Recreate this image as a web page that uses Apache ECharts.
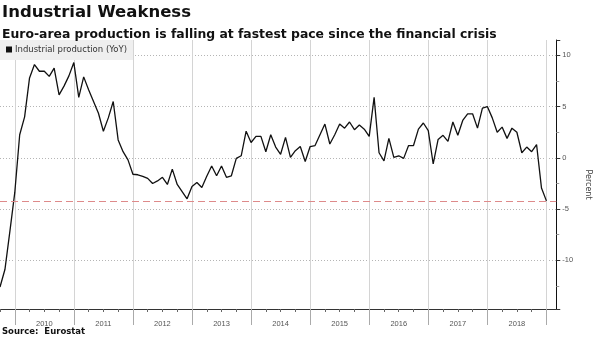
<!DOCTYPE html>
<html>
<head>
<meta charset="utf-8">
<script src="https://cdn.jsdelivr.net/npm/echarts@6/dist/echarts.min.js"></script>
<style>
  html, body { margin: 0; padding: 0; background: #fff; }
  #chart { width: 600px; height: 338px; }
</style>
</head>
<body>
<div id="chart"></div>
<script>
// Monthly axis: month-end categories from Sep 2009 through Feb 2019
const startYear = 2009, startMonth = 9, monthCount = 114;
const months = [];
for (let i = 0; i < monthCount; i++) {
  const t = startYear * 12 + (startMonth - 1) + i;
  const y = Math.floor(t / 12), m = (t % 12) + 1;
  months.push(y + '-' + String(m).padStart(2, '0'));
}

// Euro-area industrial production, % change year on year (Sep 2009 - Dec 2018)
const ip2009 = [-12.6, -10.9, -7.2, -3.4];
const ip2010 = [2.25, 4.0, 7.8, 9.1, 8.45, 8.45, 7.95, 8.75, 6.15, 7.0, 8.0, 9.3];
const ip2011 = [5.9, 7.9, 6.65, 5.5, 4.35, 2.6, 3.9, 5.5, 1.75, 0.6, -0.2, -1.6];
const ip2012 = [-1.65, -1.8, -2.0, -2.5, -2.25, -1.9, -2.6, -1.1, -2.6, -3.3, -4.0, -2.8];
const ip2013 = [-2.4, -2.9, -1.8, -0.8, -1.75, -0.8, -1.9, -1.75, -0.05, 0.2, 2.6, 1.5];
const ip2014 = [2.1, 2.1, 0.6, 2.25, 1.05, 0.35, 2.0, 0.05, 0.7, 1.1, -0.35, 1.1];
const ip2015 = [1.2, 2.25, 3.3, 1.35, 2.25, 3.3, 2.9, 3.5, 2.75, 3.2, 2.8, 2.1];
const ip2016 = [5.9, 0.5, -0.3, 1.9, 0.05, 0.2, -0.05, 1.2, 1.2, 2.8, 3.4, 2.65];
const ip2017 = [-0.6, 1.8, 2.2, 1.6, 3.5, 2.2, 3.65, 4.3, 4.3, 2.9, 4.85, 5.0];
const ip2018 = [3.9, 2.5, 3.0, 1.9, 2.9, 2.5, 0.5, 1.05, 0.6, 1.3, -2.95, -4.2];

const industrialProduction = [].concat(ip2009, ip2010, ip2011, ip2012, ip2013,
  ip2014, ip2015, ip2016, ip2017, ip2018);
const latestValue = industrialProduction[industrialProduction.length - 1];

const seriesName = 'Industrial production (YoY)';
const yTickLabels = [-10, -5, 0, 5, 10];

const isYearEnd = (i, v) => v.slice(5) === '12';
const isMidYear = (i, v) => v.slice(5) === '06';
const isQuarter = (i, v) => ['03', '06', '09'].indexOf(v.slice(5)) >= 0;

const GRID_TOP = 40, GRID_BOTTOM = 29;
const chart = echarts.init(document.getElementById('chart'), null, { renderer: 'canvas' });

chart.setOption({
  animation: false,
  backgroundColor: '#ffffff',
  title: [
    {
      text: 'Industrial Weakness',
      left: 2, top: 3, padding: 0,
      textStyle: { fontFamily: 'DejaVu Sans', fontWeight: 'bold', fontSize: 16.5, color: '#111', lineHeight: 20 }
    },
    {
      text: 'Euro-area production is falling at fastest pace since the financial crisis',
      left: 2, top: 27, padding: 0,
      textStyle: { fontFamily: 'DejaVu Sans', fontWeight: 'bold', fontSize: 12.4, color: '#111', lineHeight: 15 }
    },
    {
      text: 'Source:  Eurostat',
      left: 2, top: 326, padding: 0,
      textStyle: { fontFamily: 'DejaVu Sans', fontWeight: 'bold', fontSize: 8.5, color: '#111', lineHeight: 12 }
    }
  ],
  legend: {
    left: 0, top: GRID_TOP,
    padding: [5, 6, 6, 6],
    backgroundColor: '#efefef',
    itemWidth: 6, itemHeight: 6,
    itemGap: 4,
    textStyle: { fontFamily: 'DejaVu Sans', fontSize: 8.5, color: '#333', padding: [0, 0, 0, -2] },
    data: [{ name: seriesName, icon: 'rect', itemStyle: { color: '#111' } }]
  },
  grid: { left: 0, right: 27, top: GRID_TOP, bottom: GRID_BOTTOM, containLabel: false },
  xAxis: [
    {
      type: 'category',
      data: months,
      boundaryGap: false,
      position: 'bottom',
      axisLine: { show: true, onZero: false, lineStyle: { color: '#333', width: 1 } },
      axisTick: { show: true, interval: isYearEnd, length: 16, lineStyle: { color: '#aaa', width: 1 } },
      axisLabel: {
        show: true, interval: isMidYear, margin: 11,
        formatter: v => v.slice(0, 4),
        fontFamily: 'Liberation Sans', fontSize: 7.5, color: '#555'
      },
      splitLine: { show: true, interval: isYearEnd, lineStyle: { color: '#d4d4d4', width: 1, type: 'solid' } }
    },
    {
      // quarterly minor ticks along the bottom edge
      type: 'category',
      data: months,
      boundaryGap: false,
      position: 'top',
      offset: -(338 - GRID_TOP - GRID_BOTTOM),
      axisLine: { show: false, onZero: false },
      axisTick: { show: true, inside: true, interval: isQuarter, length: 3, lineStyle: { color: '#666', width: 1 } },
      axisLabel: { show: false },
      splitLine: { show: false }
    }
  ],
  yAxis: {
    type: 'value',
    position: 'right',
    min: -14.75,
    max: 11.5,
    splitNumber: 5,
    name: 'Percent',
    nameLocation: 'middle',
    nameRotate: -90,
    nameGap: 19,
    nameTextStyle: { fontFamily: 'DejaVu Sans', fontSize: 8, color: '#444', padding: [0, 0, 0, 20] },
    axisLine: { show: true, lineStyle: { color: '#111', width: 1 } },
    axisTick: { show: true, length: 4, lineStyle: { color: '#333' } },
    minorTick: { show: true, splitNumber: 2, length: 3, lineStyle: { color: '#999' } },
    axisLabel: {
      margin: 6,
      showMinLabel: false, showMaxLabel: false,
      formatter: v => (yTickLabels.indexOf(v) >= 0 ? String(v) : ''),
      fontFamily: 'Liberation Sans', fontSize: 7.5, color: '#555'
    },
    splitLine: {
      show: true, showMinLine: false, showMaxLine: false,
      lineStyle: { color: '#b5b5b5', width: 1, type: [1, 2] }
    }
  },
  series: [
    {
      name: seriesName,
      type: 'line',
      data: industrialProduction,
      symbol: 'none',
      smooth: false,
      lineStyle: { color: '#111', width: 1.3 },
      itemStyle: { color: '#111' },
      z: 3,
      markLine: {
        silent: true,
        symbol: 'none',
        label: { show: false },
        lineStyle: { color: '#de8a8a', width: 1.2, type: [7, 4] },
        data: [{ yAxis: latestValue }]
      }
    }
  ]
});
</script>
</body>
</html>
